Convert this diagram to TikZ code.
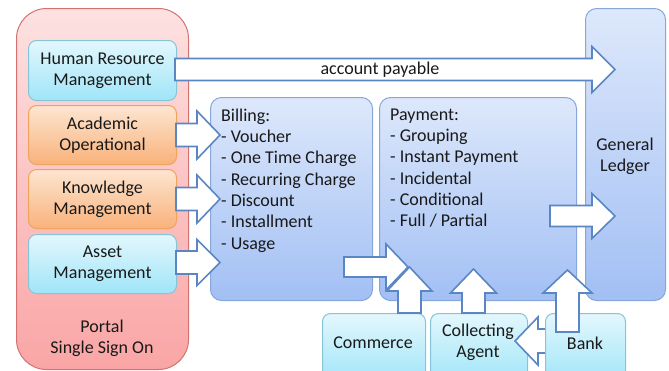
\documentclass[tikz,border=0pt]{standalone}
\usepackage{fontspec}
\setmainfont{Carlito}
\usetikzlibrary{shapes.misc}
\definecolor{arrowline}{HTML}{5A87C4}
\definecolor{cyantop}{HTML}{E3F7FD}
\definecolor{cyanbot}{HTML}{9FE5F8}
\definecolor{cyanline}{HTML}{86C5D8}
\definecolor{orgtop}{HTML}{FDE5D2}
\definecolor{orgbot}{HTML}{F9B27A}
\definecolor{orgline}{HTML}{EFA45C}
\definecolor{pinktop}{HTML}{FDE1E1}
\definecolor{pinkbot}{HTML}{FAA5A5}
\definecolor{pinkline}{HTML}{D47272}
\definecolor{bluetop}{HTML}{DDE8FB}
\definecolor{bluebot}{HTML}{A2BFF4}
\definecolor{blueline}{HTML}{87A7D8}
\newcommand\rarr[6]{% xs, xtip, yc, s, h, L
  \draw[blockarrow] (#1,#3-#4) -- (#2-#6,#3-#4) -- (#2-#6,#3-#5) -- (#2,#3) -- (#2-#6,#3+#5) -- (#2-#6,#3+#4) -- (#1,#3+#4) -- cycle;}
\newcommand\larr[6]{% xs, xtip, yc, s, h, L
  \draw[blockarrow] (#1,#3-#4) -- (#2+#6,#3-#4) -- (#2+#6,#3-#5) -- (#2,#3) -- (#2+#6,#3+#5) -- (#2+#6,#3+#4) -- (#1,#3+#4) -- cycle;}
\newcommand\uarr[6]{% xc, ybottom, ytip, s, h, L
  \draw[blockarrow] (#1-#4,#2) -- (#1-#4,#3+#6) -- (#1-#5,#3+#6) -- (#1,#3) -- (#1+#5,#3+#6) -- (#1+#4,#3+#6) -- (#1+#4,#2) -- cycle;}
\tikzset{
  txt/.style={font=\fontsize{18}{21.3}\selectfont, text=black!90},
  box/.style={txt, draw, line width=1pt, rounded corners=8pt, anchor=north west, align=center, inner sep=0pt},
  cyanbox/.style={box, draw=cyanline, top color=cyantop, bottom color=cyanbot},
  orgbox/.style={box, draw=orgline, top color=orgtop, bottom color=orgbot},
  bluebox/.style={box, draw=blueline, top color=bluetop, bottom color=bluebot, rounded corners=11pt},
  blockarrow/.style={draw=arrowline, fill=white, line width=1.6pt, line join=miter},
  listtxt/.style={txt, anchor=north west, align=left, inner sep=0pt},
}
\begin{document}
\begin{tikzpicture}[x=1pt,y=-1pt]
\useasboundingbox (0,0) rectangle (669,370);
% portal
\node[box, draw=pinkline, top color=pinktop, bottom color=pinkbot, rounded corners=30pt,
  minimum width=172pt, minimum height=361pt] (portal) at (16,8) {};
\node[txt, align=center] (portaltxt) at (102,338) {Portal\\Single Sign On};
% left boxes
\node[cyanbox, minimum width=148pt, minimum height=60pt] (hrm) at (28,40) {Human Resource\\Management};
\node[orgbox, minimum width=148pt, minimum height=59pt] (acad) at (28,105) {Academic\\Operational};
\node[orgbox, minimum width=148pt, minimum height=59pt] (know) at (28,169) {Knowledge\\Management};
\node[cyanbox, minimum width=148pt, minimum height=59pt] (asset) at (28,234) {Asset\\Management};
% blue boxes
\node[bluebox, minimum width=162pt, minimum height=203pt] (billing) at (210,97) {};
\node[bluebox, minimum width=197pt, minimum height=203pt] (payment) at (379,97) {};
\node[bluebox, minimum width=80pt, minimum height=292pt] (gl) at (585,8) {};
\node[txt, align=center] (gltxt) at (625,156) {General\\Ledger};
\node[listtxt] (billtxt) at (221,108.5) {Billing:\\- Voucher\\- One Time Charge\\- Recurring Charge\\- Discount\\- Installment\\- Usage};
\node[listtxt] (paytxt) at (390,108.5) {Payment:\\- Grouping\\- Instant Payment\\- Incidental\\- Conditional\\- Full / Partial};
% arrows from portal
\rarr{175}{615}{69.5}{11}{23}{23}
\node[txt] (aplabel) at (380,70) {account payable};
\rarr{176}{220}{135}{11.5}{24}{23}
\rarr{176}{220}{199}{11.5}{24}{23}
\rarr{176}{220}{262.5}{11.5}{23}{23}
% payment to GL
\rarr{550}{615}{216}{10.5}{22.5}{23}
% billing to payment
\rarr{344}{408}{267}{10}{23}{22}
% bottom boxes
\node[cyanbox, minimum width=103pt, minimum height=70pt] (commerce) at (322,313) {};
\node[txt] (commercetxt) at (373,343) {Commerce};
\node[cyanbox, minimum width=97pt, minimum height=70pt] (collect) at (430,313) {};
\node[txt, align=center] (collecttxt) at (478,342.5) {Collecting\\Agent};
\uarr{409.5}{313}{267}{11.5}{22.5}{24}
\uarr{473.5}{313}{269}{11.5}{23}{24}
\larr{548}{515}{341}{12}{24}{23}
\node[cyanbox, minimum width=80pt, minimum height=70pt] (bank) at (545,313) {};
\node[txt] (banktxt) at (585,343) {Bank};
\uarr{567.5}{332}{270}{11.5}{24.5}{23}
\end{tikzpicture}
\end{document}
